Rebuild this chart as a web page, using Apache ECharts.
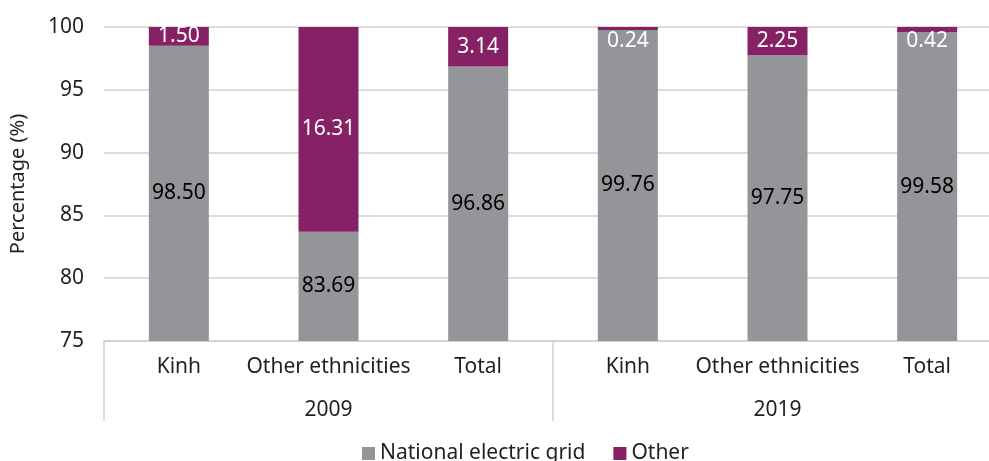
<!DOCTYPE html>
<html><head><meta charset="utf-8">
<script src="https://cdn.jsdelivr.net/npm/echarts@6/dist/echarts.min.js"></script>
<style>html,body{margin:0;padding:0;background:#fff;overflow:hidden}#c{width:1002px;height:461px}</style>
</head><body><div id="c"></div>
<script>
const categories = ['Kinh', 'Other ethnicities', 'Total', 'Kinh', 'Other ethnicities', 'Total'];
const years = ['2009', '2019'];
const nationalGrid = [98.50, 83.69, 96.86, 99.76, 97.75, 99.58];
const otherSource = [1.50, 16.31, 3.14, 0.24, 2.25, 0.42];
const yTicks = { min: 75, max: 100, interval: 5 };

const FONT = '"Noto Sans", sans-serif';
const TXT = '#231f20';
const chart = echarts.init(document.getElementById('c'));
chart.setOption({
  animation: false,
  grid: { left: 101, right: 0, top: 27, bottom: 120 },
  legend: {
    bottom: -8, left: 357, itemWidth: 13, itemHeight: 13, itemGap: 28,
    icon: 'rect',
    textStyle: { fontFamily: FONT, fontSize: 21, color: TXT }
  },
  xAxis: [{
    type: 'category', data: categories,
    axisLine: { lineStyle: { color: '#d0d0d0', width: 1.5 } },
    axisTick: { show: false },
    axisLabel: { interval: 0, margin: 16, fontFamily: FONT, fontSize: 21, color: TXT }
  }, {
    type: 'category', data: years, position: 'bottom',
    axisLine: { show: false },
    axisTick: { show: true, length: 80, lineStyle: { color: '#d0d0d0', width: 1.5 } },
    axisLabel: { interval: 0, margin: 59, fontFamily: FONT, fontSize: 21, color: TXT },
    splitLine: { show: false }
  }],
  yAxis: {
    type: 'value', min: yTicks.min, max: yTicks.max, interval: yTicks.interval,
    name: 'Percentage (%)', nameLocation: 'middle', nameGap: 76, nameRotate: 90,
    nameTextStyle: { fontFamily: FONT, fontSize: 20, color: TXT },
    axisLine: { show: false }, axisTick: { show: false },
    axisLabel: { margin: 20, fontFamily: FONT, fontSize: 21, color: TXT },
    splitLine: { lineStyle: { color: '#d0d0d0', width: 1.5 } }
  },
  series: [{
    name: 'National electric grid', type: 'bar', stack: 's', barWidth: 60,
    itemStyle: { color: '#939598' },
    label: { show: true, position: 'inside', fontFamily: FONT, fontSize: 21, color: '#000',
      formatter: p => p.value.toFixed(2) },
    data: nationalGrid
  }, {
    name: 'Other', type: 'bar', stack: 's', barWidth: 60,
    itemStyle: { color: '#862165' },
    data: otherSource.map(v => ({
      value: v,
      label: v < 1 ? { position: 'insideTop', distance: 4 } : { position: 'inside' }
    })),
    label: { show: true, fontFamily: FONT, fontSize: 21, color: '#fff',
      formatter: p => p.value.toFixed(2) }
  }]
});
</script></body></html>
